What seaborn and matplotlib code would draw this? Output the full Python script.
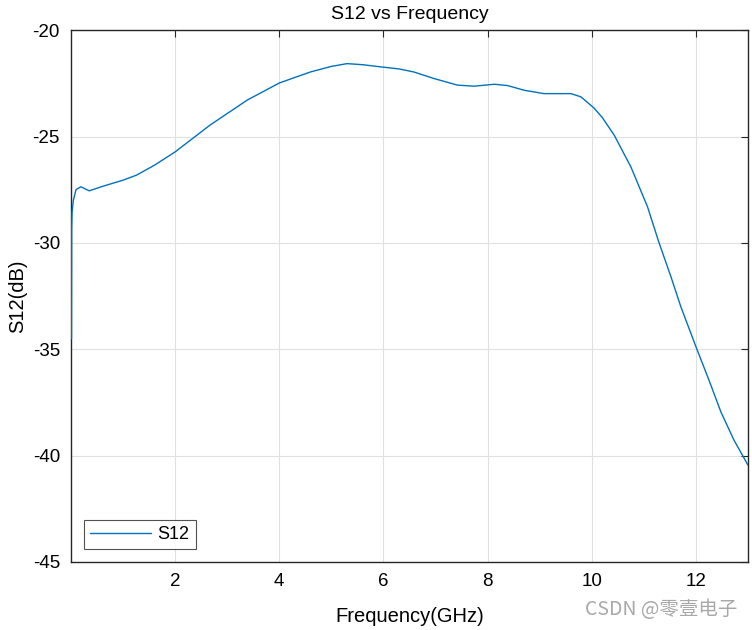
import numpy as np
import pandas as pd
import matplotlib
matplotlib.use("Agg")
import matplotlib.pyplot as plt
import seaborn as sns

# values (GHz, dB)
freq = [0.01, 0.013, 0.02, 0.045, 0.097, 0.19, 0.35, 0.62, 1.0, 1.26, 1.6, 2.0,
        2.67, 3.38, 4.0, 4.6, 5.0, 5.3, 5.6, 5.94, 6.3, 6.58, 6.97, 7.42, 7.74,
        8.13, 8.38, 8.7, 9.08, 9.6, 9.79, 10.04, 10.2, 10.43, 10.75, 11.07,
        11.29, 11.52, 11.71, 12.0, 12.25, 12.48, 12.73, 13.0]
s12 = [-34.5, -29.4, -28.6, -28.0, -27.49, -27.36, -27.55, -27.33, -27.05, -26.81,
       -26.35, -25.72, -24.46, -23.29, -22.48, -21.96, -21.7, -21.57, -21.62,
       -21.72, -21.82, -21.96, -22.27, -22.58, -22.63, -22.54, -22.6, -22.82,
       -22.98, -22.98, -23.13, -23.65, -24.1, -24.93, -26.42, -28.3, -29.98,
       -31.59, -33.0, -34.88, -36.45, -37.95, -39.27, -40.45]
xticks = [2, 4, 6, 8, 10, 12]
yticks = [-45, -40, -35, -30, -25, -20]

df = pd.DataFrame({"Frequency": freq, "S12": s12})

sns.set_theme(style="whitegrid")
plt.rcParams["font.family"] = ["Liberation Sans", "DejaVu Sans"]
plt.rcParams["axes.unicode_minus"] = False
plt.rcParams["text.color"] = "black"
plt.rcParams["axes.labelcolor"] = "black"
plt.rcParams["xtick.color"] = "#262626"
plt.rcParams["ytick.color"] = "#262626"
plt.rcParams["xtick.labelcolor"] = "black"
plt.rcParams["ytick.labelcolor"] = "black"

fig = plt.figure(figsize=(7.52, 6.30), dpi=100)
ax = fig.add_axes([0.0944, 0.108, 0.9003, 0.844])

sns.lineplot(data=df, x="Frequency", y="S12", ax=ax, color="#0072BD",
             linewidth=1.0, label="S12", sort=False, zorder=3)

ax.set_xlim(0, 13)
ax.set_ylim(-45, -20)
ax.set_xticks(xticks)
ax.set_yticks(yticks)
ax.tick_params(axis="both", direction="in", labelsize=13.5, length=5, width=0.8,
               top=True, right=True, pad=8)
ax.grid(True, color="#e0e0e0", linewidth=0.8)
for sp in ax.spines.values():
    sp.set_color("#262626")
    sp.set_linewidth(1.0)
ax.set_facecolor("white")

ax.set_title("S12 vs Frequency", fontsize=14, pad=8)
ax.set_xlabel("Frequency(GHz)", fontsize=14.5, labelpad=12)
ax.set_ylabel("S12(dB)", fontsize=14.5, labelpad=4)

leg = ax.legend(loc="lower left", fontsize=13, frameon=True, fancybox=False,
                edgecolor="#262626", borderaxespad=0.7, handlelength=3.4,
                handletextpad=0.35, borderpad=0.35)
leg.get_frame().set_linewidth(0.8)

fig.text(0.98, 0.033, "CSDN @零壹电子", ha="right", va="center", fontsize=14,
         color="#a8a8a8", family=["Noto Sans CJK SC", "DejaVu Sans"])

fig.savefig("out.png", dpi=100, facecolor="white")
plt.close()
